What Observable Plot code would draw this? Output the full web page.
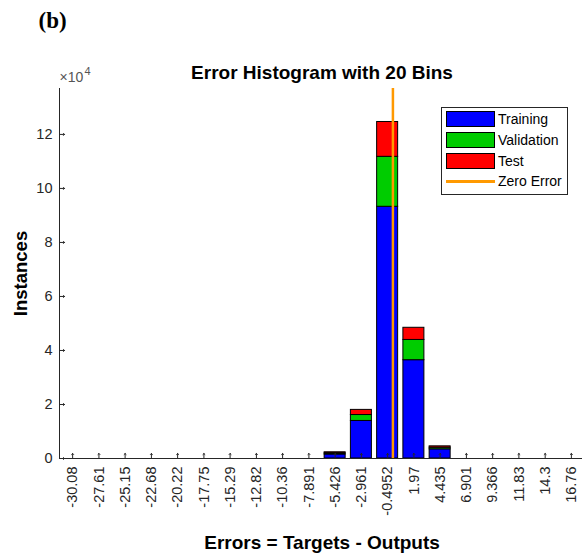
<!DOCTYPE html>
<html>
<head>
<meta charset="utf-8">
<script src="https://cdn.jsdelivr.net/npm/d3@7"></script>
<script src="https://cdn.jsdelivr.net/npm/@observablehq/plot@0.6"></script>
<style>
  html, body { margin: 0; padding: 0; background: #fff; overflow: hidden; }
  #chart { position: relative; width: 582px; height: 553px; overflow: hidden; }
  #chart svg { display: block; max-width: none !important; }
  .legend {
    position: absolute; left: 441px; top: 107px; width: 127px; height: 88px;
    box-sizing: border-box; border: 1px solid #262626; background: #fff;
    font: 14px "Liberation Sans", Arial, sans-serif; color: #000;
    padding: 1px 0 0 4px;
  }
  .legend .row { display: flex; align-items: center; height: 20.7px; }
  .legend .sw { width: 47px; height: 14px; border: 1px solid #000; margin-right: 3px; flex: none; }
  .legend .ln { width: 49px; height: 0; border-top: 3px solid; margin-right: 3px; flex: none; }
</style>
</head>
<body>
<div id="chart"></div>
<script>
// Histogram bins (centres and their tick labels)
const binCenters = [-30.08, -27.61, -25.15, -22.68, -20.22, -17.75, -15.29, -12.82, -10.36, -7.891,
                    -5.426, -2.961, -0.4952, 1.97, 4.435, 6.901, 9.366, 11.83, 14.3, 16.76];
const binLabels = ["-30.08", "-27.61", "-25.15", "-22.68", "-20.22", "-17.75", "-15.29", "-12.82", "-10.36", "-7.891",
                   "-5.426", "-2.961", "-0.4952", "1.97", "4.435", "6.901", "9.366", "11.83", "14.3", "16.76"];

// Instance counts per bin for each data split
const training   = [0, 0, 0, 0, 0, 0, 0, 0, 0, 0, 1500, 13900, 93200, 36400, 3400, 0, 0, 0, 0, 0];
const validation = [0, 0, 0, 0, 0, 0, 0, 0, 0, 0,  400,  2200, 18500,  7500,  600, 0, 0, 0, 0, 0];
const test       = [0, 0, 0, 0, 0, 0, 0, 0, 0, 0,  400,  1900, 12900,  4500,  500, 0, 0, 0, 0, 0];

const seriesNames  = ["Training", "Validation", "Test"];
const seriesColors = ["#0000ff", "#00cc00", "#ff0000"];
const zeroErrorLabel = "Zero Error";
const zeroErrorColor = "#ff9900";

const yTicks = [0, 20000, 40000, 60000, 80000, 100000, 120000];
const yMax = 137000;

// Stack the three splits inside every bin
const seriesValues = [training, validation, test];
const binWidth = (binCenters[binCenters.length - 1] - binCenters[0]) / (binCenters.length - 1);
const rows = [];
binCenters.forEach((c, i) => {
  let base = 0;
  seriesNames.forEach((name, s) => {
    const v = seriesValues[s][i];
    if (v > 0) rows.push({center: c, series: name, y1: base, y2: base + v});
    base += v;
  });
});

const xDomain = [binCenters[0] - binWidth / 2, binCenters[binCenters.length - 1] + binWidth / 2];
const axisColor = "#262626";
const font = "'Liberation Sans', Arial, sans-serif";

const plot = Plot.plot({
  width: 585,
  height: 553,
  marginLeft: 59,
  marginRight: 1,
  marginTop: 88,
  marginBottom: 95,
  style: {fontFamily: font, background: "#fff", overflow: "visible"},
  x: {type: "linear", domain: xDomain},
  y: {domain: [0, yMax]},
  color: {domain: seriesNames, range: seriesColors},
  marks: [
    Plot.rect(rows, {
      x1: d => d.center - 0.4 * binWidth,
      x2: d => d.center + 0.4 * binWidth,
      y1: "y1", y2: "y2",
      fill: "series", stroke: "#000", strokeWidth: 1
    }),
    Plot.ruleX([0], {stroke: zeroErrorColor, strokeWidth: 2.5}),
    // axis lines
    Plot.ruleY([0], {stroke: axisColor}),
    Plot.ruleX([xDomain[0]], {stroke: axisColor}),
    // inward-pointing ticks
    Plot.vector(yTicks, {x: xDomain[0], y: d => d, length: 5, rotate: 90, anchor: "start", stroke: axisColor, strokeWidth: 1}),
    Plot.vector(binCenters, {x: d => d, y: 0, length: 5, rotate: 0, anchor: "start", stroke: axisColor, strokeWidth: 1}),
    Plot.axisY({
      ticks: yTicks, tickFormat: d => d / 1e4, tickSize: 0, tickPadding: 7,
      fontSize: 14.5, color: axisColor, label: null
    }),
    Plot.axisX({
      ticks: binCenters, tickFormat: (d, i) => binLabels[i], tickRotate: -90,
      tickSize: 0, tickPadding: 8, fontSize: 14.5, color: axisColor, label: null
    }),
    Plot.text(["Error Histogram with 20 Bins"], {
      frameAnchor: "top", lineAnchor: "middle", textAnchor: "middle", dy: -16,
      fontSize: 19, fontWeight: "bold", fill: "#000"
    }),
    Plot.text(["Errors = Targets - Outputs"], {
      frameAnchor: "bottom", lineAnchor: "middle", textAnchor: "middle", dy: 84,
      fontSize: 19, fontWeight: "bold", fill: "#000"
    }),
    Plot.text(["Instances"], {
      frameAnchor: "left", lineAnchor: "middle", textAnchor: "middle", dx: -38, rotate: -90,
      fontSize: 18.5, fontWeight: "bold", fill: "#000"
    }),
    Plot.text(["×10"], {
      frameAnchor: "top-left", lineAnchor: "middle", textAnchor: "start", dx: 0, dy: -11,
      fontSize: 14, fill: "#555"
    }),
    Plot.text(["4"], {
      frameAnchor: "top-left", lineAnchor: "middle", textAnchor: "start", dx: 25, dy: -17,
      fontSize: 11, fill: "#555"
    }),
    Plot.text(["(b)"], {
      frameAnchor: "top-left", lineAnchor: "middle", textAnchor: "start", dx: -21, dy: -68,
      fontSize: 23, fontWeight: "bold", fontFamily: "'Liberation Serif', 'Times New Roman', serif", fill: "#000"
    })
  ]
});

const chart = document.getElementById("chart");
chart.appendChild(plot);

// Legend box
const legend = document.createElement("div");
legend.className = "legend";
seriesNames.forEach((name, s) => {
  const row = document.createElement("div");
  row.className = "row";
  row.innerHTML = `<span class="sw" style="background:${seriesColors[s]}"></span><span>${name}</span>`;
  legend.appendChild(row);
});
const zrow = document.createElement("div");
zrow.className = "row";
zrow.innerHTML = `<span class="ln" style="border-color:${zeroErrorColor}"></span><span>${zeroErrorLabel}</span>`;
legend.appendChild(zrow);
chart.appendChild(legend);
</script>
</body>
</html>
